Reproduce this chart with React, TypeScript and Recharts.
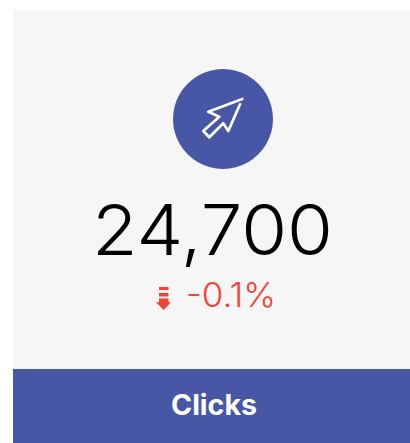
import React from "react";
import { PieChart, Pie, Cell, Customized } from "recharts";

const labels = ["Clicks"];
const values = [24700];
const displayValues = ["24,700"];
const changes = ["-0.1%"];

const BLUE = "#4757a5";
const RED = "#f44336";
const FONT = "Inter, 'Open Sans', sans-serif";

const rows = labels.map((name, i) => ({ name, value: values[i] }));

const Back = () => (
  <g>
    <rect x={13} y={10} width={397} height={433} fill="#f6f6f6" />
    <rect x={13} y={369} width={397} height={74} fill={BLUE} />
  </g>
);

const CursorIcon = () => (
  <path
    d="M242.3 99 L208.3 111.7 L219.3 116.7 L203.3 131 L209.3 137.3 L223.3 123.3 L228.3 131 L240 104.3"
    fill="none"
    stroke="#fff"
    strokeWidth={2.7}
    strokeLinejoin="round"
    strokeLinecap="round"
  />
);

const Front = () => (
  <g>
    <text x={92} y={255} fontFamily={FONT} fontWeight={300} fontSize={70} textLength={241} lengthAdjust="spacingAndGlyphs" fill="#000">
      {displayValues[0]}
    </text>
    <g fill={RED}>
      <rect x={159} y={287} width={9.5} height={3} />
      <rect x={159} y={293} width={9.5} height={3.5} />
      <path d="M159 298.5 H168.5 V302.3 H171 L163.7 310 L156 302.3 H159 Z" />
    </g>
    <text x={186} y={307} fontFamily={FONT} fontWeight={300} fontSize={34} textLength={90} lengthAdjust="spacingAndGlyphs" fill={RED}>
      {changes[0]}
    </text>
    <text x={171} y={415} fontFamily={FONT} fontWeight={700} fontSize={28} textLength={86} lengthAdjust="spacingAndGlyphs" fill="#fff">
      {labels[0]}
    </text>
  </g>
);

export default function App() {
  return (
    <div style={{ position: "absolute", left: 0, top: 0, width: 410, height: 443, overflow: "hidden" }}>
      <PieChart width={410} height={443} margin={{ top: 0, right: 0, bottom: 0, left: 0 }}>
        <Customized component={Back} />
        <Pie
          data={rows}
          dataKey="value"
          nameKey="name"
          cx={223}
          cy={119}
          innerRadius={0}
          outerRadius={50}
          stroke="none"
          labelLine={false}
          label={CursorIcon}
          isAnimationActive={false}
        >
          {rows.map((r) => (
            <Cell key={r.name} fill={BLUE} />
          ))}
        </Pie>
        <Customized component={Front} />
      </PieChart>
    </div>
  );
}
